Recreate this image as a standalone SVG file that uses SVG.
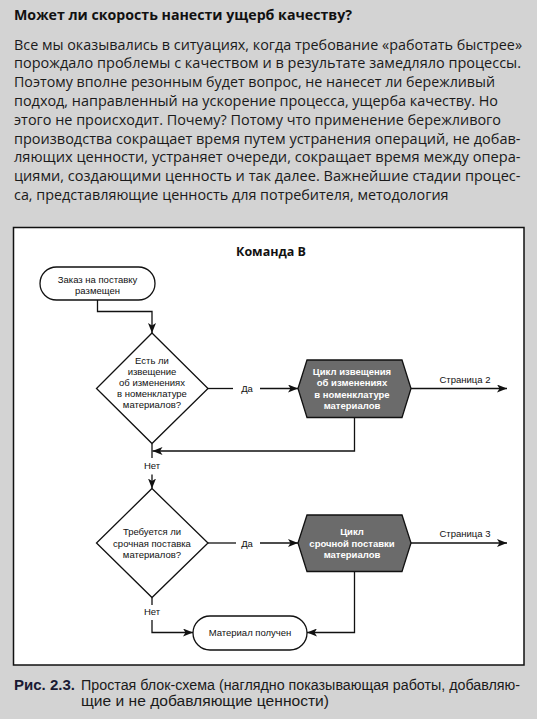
<svg xmlns="http://www.w3.org/2000/svg" width="537" height="719" viewBox="0 0 537 719">
<style>
.body{font-family:"Open Sans","Noto Sans",sans-serif;font-size:14px;fill:#1a1a1a}
.h{font-family:"Open Sans","Noto Sans",sans-serif;font-size:14.5px;font-weight:bold;fill:#111}
.cap{font-family:"Liberation Sans",Arial,sans-serif;font-size:14px;fill:#1a1a1a}
.capb{font-family:"Liberation Sans",Arial,sans-serif;font-size:14px;font-weight:bold;fill:#1a1a33}
.t{font-family:"Liberation Sans",Arial,sans-serif;font-size:9.5px;fill:#111;text-anchor:middle}
.tw{font-family:"Liberation Sans",Arial,sans-serif;font-size:9.5px;font-weight:bold;fill:#fff;text-anchor:middle}
.ttl{font-family:"Open Sans","Noto Sans",sans-serif;font-size:12.5px;font-weight:bold;fill:#111;text-anchor:middle}
.shape{fill:#fff;stroke:#111;stroke-width:1.3}
.hex{fill:#6b6b6b;stroke:#111;stroke-width:1.3}
.ln{fill:none;stroke:#111;stroke-width:1.3}
.arr{fill:none;stroke:#111;stroke-width:1.3;marker-end:url(#ah)}
</style>
<defs>
<marker id="ah" markerUnits="userSpaceOnUse" markerWidth="11" markerHeight="8" refX="10" refY="4" orient="auto">
<path d="M0,0 L10,4 L0,8 L2.5,4 z" fill="#111"/>
</marker>
</defs>
<rect x="0" y="0" width="537" height="719" fill="#d3d3d3"/>
<text class="h" x="14" y="19.5" textLength="338" lengthAdjust="spacingAndGlyphs">Может ли скорость нанести ущерб качеству?</text>
<g class="body">
<text x="14" y="49.5" textLength="508" lengthAdjust="spacingAndGlyphs">Все мы оказывались в ситуациях, когда требование «работать быстрее»</text>
<text x="14" y="68.3" textLength="507" lengthAdjust="spacingAndGlyphs">порождало проблемы с качеством и в результате замедляло процессы.</text>
<text x="14" y="87.1" textLength="481" lengthAdjust="spacingAndGlyphs">Поэтому вполне резонным будет вопрос, не нанесет ли бережливый</text>
<text x="14" y="105.9" textLength="484" lengthAdjust="spacingAndGlyphs">подход, направленный на ускорение процесса, ущерба качеству. Но</text>
<text x="14" y="124.7" textLength="487" lengthAdjust="spacingAndGlyphs">этого не происходит. Почему? Потому что применение бережливого</text>
<text x="14" y="143.5" textLength="506.5" lengthAdjust="spacingAndGlyphs">производства сокращает время путем устранения операций, не добав-</text>
<text x="14" y="162.3" textLength="506.5" lengthAdjust="spacingAndGlyphs">ляющих ценности, устраняет очереди, сокращает время между опера-</text>
<text x="14" y="181.1" textLength="506.5" lengthAdjust="spacingAndGlyphs">циями, создающими ценность и так далее. Важнейшие стадии процес-</text>
<text x="14" y="199.9" textLength="434.5" lengthAdjust="spacingAndGlyphs">са, представляющие ценность для потребителя, методология</text>
</g>
<rect x="13.5" y="227.5" width="510.5" height="437.5" fill="#fff" stroke="#111" stroke-width="1.5"/>
<text class="ttl" x="271" y="256">Команда В</text>
<g id="connectors">
<path class="arr" d="M97.5,300 V311.5 H152 V333"/>
<path class="ln" d="M208,388.5 H233"/>
<text class="t" x="247" y="392">Да</text>
<path class="arr" d="M260,388.5 H298"/>
<path class="arr" d="M411,388.5 H507"/>
<text class="t" x="465" y="382.5">Страница 2</text>
<path class="arr" d="M354.5,417.5 V451 H152.5"/>
<path class="ln" d="M152,443.5 V458"/>
<text class="t" x="152" y="468.5">Нет</text>
<path class="arr" d="M152,474.5 V488.5"/>
<path class="ln" d="M208,543 H236"/>
<text class="t" x="247" y="546.5">Да</text>
<path class="arr" d="M260,543 H298"/>
<path class="arr" d="M411,543 H507"/>
<text class="t" x="465" y="536.5">Страница 3</text>
<path class="ln" d="M152,597.5 V605"/>
<text class="t" x="152" y="615">Нет</text>
<path class="arr" d="M152,620 V632.5 H193"/>
<path class="arr" d="M354.5,571.5 V632.5 H307"/>
</g>
<g id="start">
<rect class="shape" x="40" y="267" width="115" height="33" rx="16.5"/>
<text class="t" x="97.5" y="282.5">Заказ на поставку</text>
<text class="t" x="97.5" y="294">размещен</text>
</g>
<g id="decision1">
<polygon class="shape" points="152,333 208,388.5 152,443.5 96.5,388.5"/>
<text class="t" x="152" y="363.5">Есть ли</text>
<text class="t" x="152" y="374.7">извещение</text>
<text class="t" x="152" y="385.9">об изменениях</text>
<text class="t" x="152" y="397.1">в номенклатуре</text>
<text class="t" x="152" y="408.3">материалов?</text>
</g>
<g id="process1">
<polygon class="hex" points="298,388.5 307,360 402,360 411,388.5 402,417.5 307,417.5"/>
<text class="tw" x="352" y="375">Цикл извещения</text>
<text class="tw" x="352" y="386.3">об изменениях</text>
<text class="tw" x="352" y="397.6">в номенклатуре</text>
<text class="tw" x="352" y="408.9">материалов</text>
</g>
<g id="decision2">
<polygon class="shape" points="152,488.5 208,543 152,597.5 96.5,543"/>
<text class="t" x="152" y="535">Требуется ли</text>
<text class="t" x="152" y="546.7">срочная поставка</text>
<text class="t" x="152" y="558.4">материалов?</text>
</g>
<g id="process2">
<polygon class="hex" points="298,543 307,515 402,515 411,543 402,571.5 307,571.5"/>
<text class="tw" x="352" y="535">Цикл</text>
<text class="tw" x="352" y="546.7">срочной поставки</text>
<text class="tw" x="352" y="558.4">материалов</text>
</g>
<g id="end">
<rect class="shape" x="193" y="616" width="114" height="34" rx="17"/>
<text class="t" x="250" y="636">Материал получен</text>
</g>
<text class="capb" x="14" y="689.5" textLength="61" lengthAdjust="spacingAndGlyphs">Рис. 2.3.</text>
<text class="cap" x="81" y="689.5" textLength="439" lengthAdjust="spacingAndGlyphs">Простая блок-схема (наглядно показывающая работы, добавляю-</text>
<text class="cap" x="81" y="706" textLength="248" lengthAdjust="spacingAndGlyphs">щие и не добавляющие ценности)</text>
</svg>
